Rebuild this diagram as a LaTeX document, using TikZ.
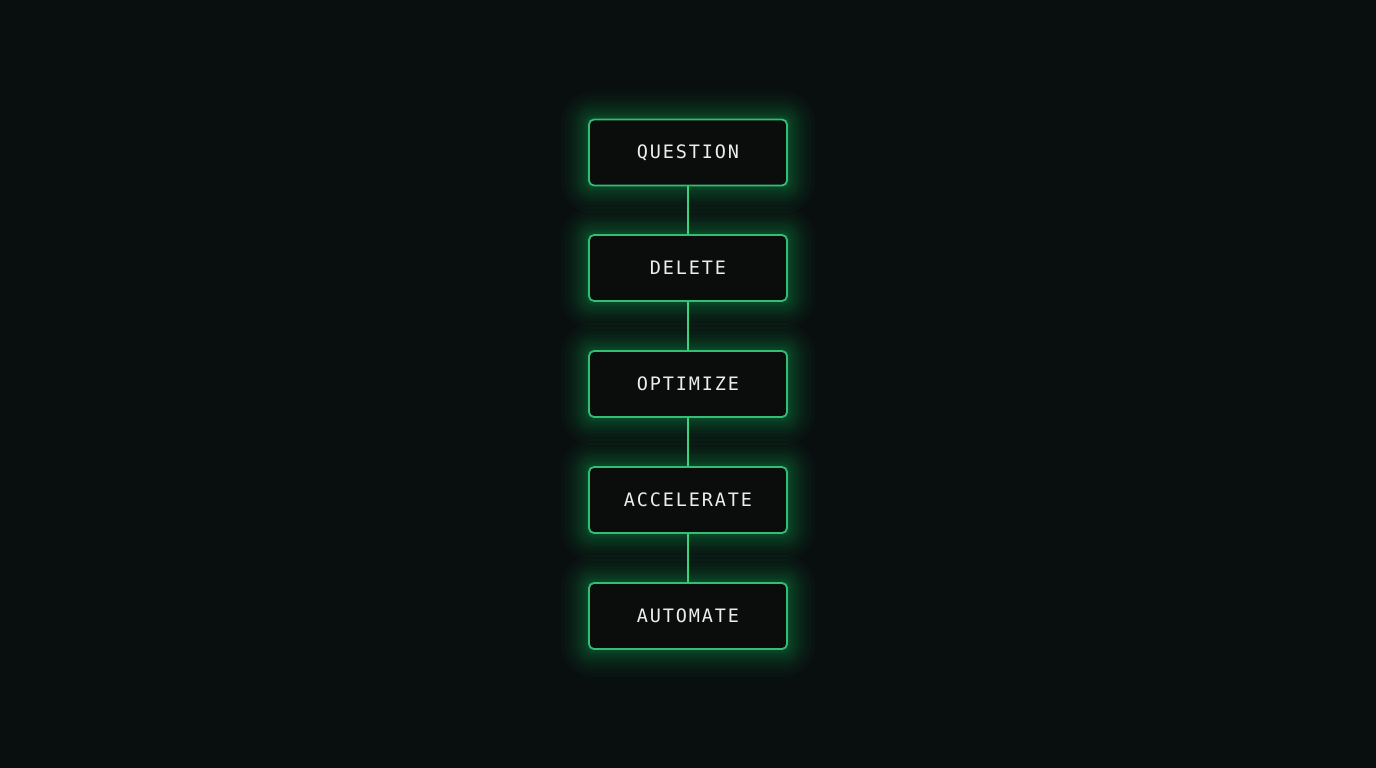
\documentclass[tikz,border=0pt]{standalone}
\usepackage{fontspec}
\setmonofont[LetterSpace=10]{DejaVu Sans Mono}
\definecolor{bgc}{RGB}{9,14,14}
\definecolor{boxfill}{RGB}{11,13,13}
\definecolor{edgec}{RGB}{52,190,115}
\definecolor{linkc}{RGB}{62,210,128}
\definecolor{glowc}{RGB}{40,200,110}
\definecolor{textc}{RGB}{235,238,236}
\pgfdeclarelayer{bglayer}
\pgfdeclarelayer{glowlayer}
\pgfsetlayers{bglayer,glowlayer,main}
\tikzset{
  stepbox/.style={draw=edgec, line width=1.8pt, fill=boxfill, rounded corners=5pt,
    minimum width=198pt, minimum height=66pt, inner sep=0pt,
    font=\ttfamily\fontsize{18.5}{20}\selectfont, text=textc},
  link/.style={draw=linkc, line width=2.6pt},
}
\newcommand{\glowbox}[1]{%
  \begin{pgfonlayer}{glowlayer}
  \foreach \r in {1,2,3,4,5,7,9,11,13,16,19,23,27}{
    \fill[glowc, opacity=0.032, rounded corners=5pt+\r pt]
      ([xshift=-\r pt, yshift=\r pt]#1.north west) rectangle ([xshift=\r pt, yshift=-\r pt]#1.south east);
  }
  \end{pgfonlayer}}
\begin{document}
\begin{tikzpicture}[x=1pt,y=-1pt]
\begin{pgfonlayer}{bglayer}
\fill[bgc] (0,0) rectangle (1376,768);
\end{pgfonlayer}
\useasboundingbox (0,0) rectangle (1376,768);
\node[stepbox] (q) at (688,152.5) {\raisebox{-1pt}{QUESTION}};
\node[stepbox] (d) at (688,268) {\raisebox{-1pt}{DELETE}};
\node[stepbox] (o) at (688,384) {\raisebox{-1pt}{OPTIMIZE}};
\node[stepbox] (ac) at (688,500) {\raisebox{-1pt}{ACCELERATE}};
\node[stepbox] (au) at (688,616) {\raisebox{-1pt}{AUTOMATE}};
\foreach \n in {q,d,o,ac,au}{\glowbox{\n}}
\draw[link] (q) -- (d);
\draw[link] (d) -- (o);
\draw[link] (o) -- (ac);
\draw[link] (ac) -- (au);
\end{tikzpicture}
\end{document}
